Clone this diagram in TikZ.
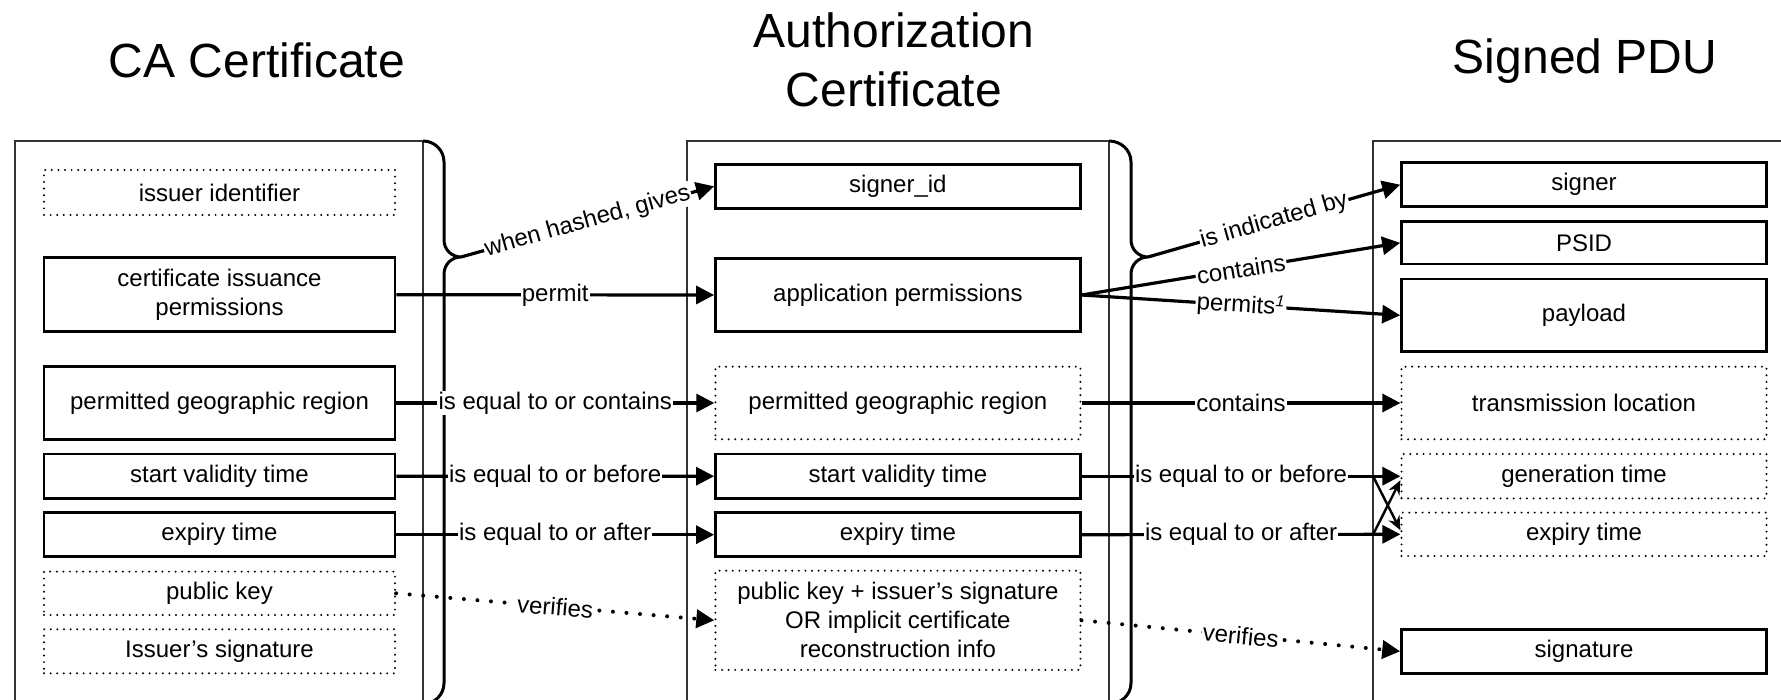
\documentclass[tikz,border=0pt]{standalone}
\usepackage{fontspec}
\setmainfont{Liberation Sans}
\usetikzlibrary{arrows.meta}

\tikzset{
  fld/.style={draw, line width=1.3pt, align=center, inner sep=2pt},
  opt/.style={fld, line width=1.1pt, dash pattern=on 0pt off 3.3pt, line cap=round},
  caw/.style={minimum width=175.5pt},
  pdw/.style={minimum width=182.5pt},
  rel/.style={line width=1.6pt, -{Triangle[length=9pt,width=9pt]}},
  crossrel/.style={line width=1.2pt, -{Stealth[length=7pt,width=6pt]}},
  vrf/.style={rel, line width=2pt, dash pattern=on 0pt off 6.8pt, line cap=round},
  lbl/.style={fill=white, inner sep=0.6pt},
  brc/.style={line width=1.5pt},
  outerbox/.style={line width=0.8pt, black!80},
  ttl/.style={font=\fontsize{24}{29.5}\selectfont, align=center}
}

\begin{document}
\begin{tikzpicture}[x=0.5pt, y=-0.5pt, font=\fontsize{12}{14.5}\selectfont]
\useasboundingbox (0,0) rectangle (1781,700);
\clip (0,0) rectangle (1781,700);

\node[ttl, anchor=base] (caTitle) at (257,78) {CA Certificate};
\node[ttl] (acTitle) at (894,60) {Authorization\\Certificate};
\node[ttl, anchor=base] (pduTitle) at (1585,74) {Signed PDU};

\draw[outerbox] (15,141) rectangle (423,720);
\draw[outerbox] (687,141) rectangle (1109,720);
\draw[outerbox] (1373,141) rectangle (1800,720);

% braces
\coordinate (caTip) at (461,257);
\coordinate (acTip) at (1148,257);
\draw[brc] (423,141) to[out=0,in=90] (444,162) -- (444,240) to[out=-90,in=180] (caTip)
  to[out=180,in=90] (444,274) -- (444,683) to[out=-90,in=0] (423,704);
\draw[brc] (1109,141) to[out=0,in=90] (1131,162) -- (1131,240) to[out=-90,in=180] (acTip)
  to[out=180,in=90] (1131,274) -- (1131,683) to[out=-90,in=0] (1109,704);

\node[opt, caw, minimum height=22.5pt] (caId) at (219.5,192.5) {issuer identifier};
\node[fld, caw, minimum height=37pt] (caPerm) at (219.5,294.7) {certificate issuance\\permissions};
\node[fld, caw, minimum height=36.3pt] (caRegion) at (219.5,403) {permitted geographic region};
\node[fld, caw, minimum height=22.3pt] (caStart) at (219.5,476.3) {start validity time};
\node[fld, caw, minimum height=22pt] (caExpiry) at (219.5,534.7) {expiry time};
\node[opt, caw, minimum height=21.7pt] (caKey) at (219.5,593.3) {public key};
\node[opt, caw, minimum height=22pt] (caSig) at (219.5,651.3) {Issuer’s signature};

\node[fld, pdw, minimum height=22pt] (acSigner) at (897.9,186.3) {signer\_id};
\node[fld, pdw, minimum height=36.7pt] (acPerm) at (897.9,295) {application permissions};
\node[opt, pdw, minimum height=36.3pt] (acRegion) at (897.9,403) {permitted geographic region};
\node[fld, pdw, minimum height=22.2pt] (acStart) at (897.9,476.2) {start validity time};
\node[fld, pdw, minimum height=22pt] (acExpiry) at (897.9,534.7) {expiry time};
\node[opt, pdw, minimum height=49.6pt] (acKey) at (897.9,620.3) {public key + issuer’s signature\\OR implicit certificate\\reconstruction info};

\node[fld, pdw, minimum height=22pt] (pduSigner) at (1584,184.7) {signer};
\node[fld, pdw, minimum height=21.2pt] (pduPsid) at (1584,242.8) {PSID};
\node[fld, pdw, minimum height=36.4pt] (pduPayload) at (1584,315.3) {payload};
\node[opt, pdw, minimum height=36.3pt] (pduLoc) at (1584,403) {transmission location};
\node[opt, pdw, minimum height=22.2pt] (pduGen) at (1584,476.2) {generation time};
\node[opt, pdw, minimum height=21.7pt] (pduExpiry) at (1584,534.3) {expiry time};
\node[fld, pdw, minimum height=22pt] (pduSig) at (1584,651.3) {signature};

\draw[rel] (caTip) -- node[lbl, sloped] {when hashed, gives} (acSigner.west);
\draw[rel] (caPerm.east) -- node[lbl] {permit} (acPerm.west);
\draw[rel] (caRegion.east) -- node[lbl] {is equal to or contains} (acRegion.west);
\draw[rel] (caStart.east) -- node[lbl] {is equal to or before} (acStart.west);
\draw[rel] (caExpiry.east) -- node[lbl] {is equal to or after} (acExpiry.west);
\draw[vrf] (caKey.east) -- node[lbl, sloped] {verifies} (acKey.west);

\draw[rel] (acTip) -- node[lbl, sloped] {is indicated by} (pduSigner.west);
\draw[rel] (acPerm.east) -- node[lbl, sloped] {contains} (pduPsid.west);
\draw[rel] (acPerm.east) -- node[lbl, sloped] {permits\textsuperscript{\itshape 1}} (pduPayload.west);
\draw[rel] (acRegion.east) -- node[lbl] {contains} (pduLoc.west);
\draw[rel] (acStart.east) -- node[lbl] {is equal to or before} (pduGen.west);
\draw[rel] (acExpiry.east) -- node[lbl] {is equal to or after} (pduExpiry.west);
\coordinate (startFork) at (1373,476.2);
\coordinate (expiryFork) at (1373,534.7);
\draw[crossrel] (startFork) -- ([yshift=2pt]pduExpiry.west);
\draw[crossrel] (expiryFork) -- ([yshift=-2pt]pduGen.west);
\draw[vrf] (acKey.east) -- node[lbl, sloped] {verifies} (pduSig.west);

\end{tikzpicture}
\end{document}
